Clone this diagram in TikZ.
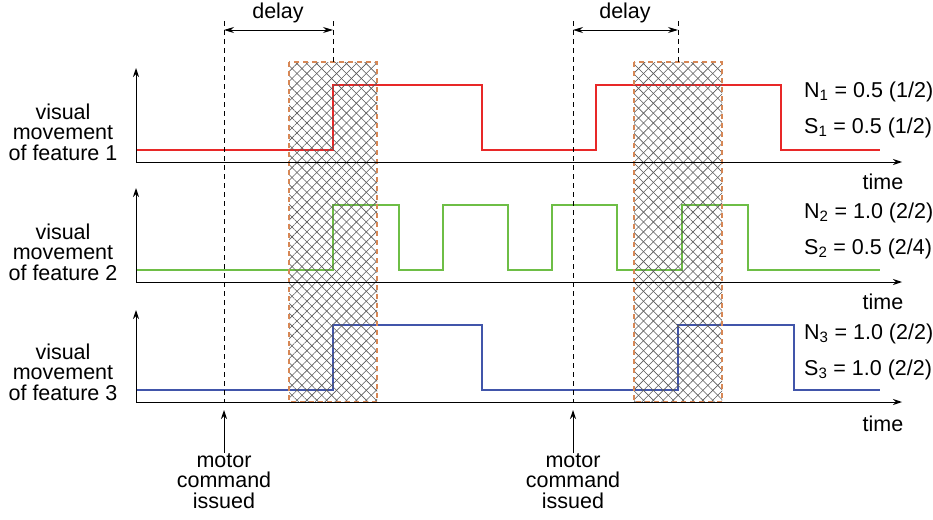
\documentclass[tikz,border=0pt]{standalone}
\usepackage{fontspec}
\setmainfont{Liberation Sans}
\usetikzlibrary{positioning, arrows.meta, patterns.meta}
\definecolor{sigred}{RGB}{232,40,40}
\definecolor{siggreen}{RGB}{110,190,70}
\definecolor{sigblue}{RGB}{65,85,170}
\definecolor{boxorange}{RGB}{215,135,85}

\tikzset{
	axis/.style={-{Stealth[length=9pt,width=6pt]}, line width=1pt},
	sig/.style={line width=1.1pt},
	guide/.style={line width=0.8pt, dash pattern=on 5pt off 4pt},
	span/.style={{Stealth[length=10pt,width=6pt]}-{Stealth[length=10pt,width=6pt]}, line width=0.9pt},
	lbl/.style={align=center, inner sep=0pt, font=\fontsize{21.5}{20.5}\selectfont},
	txt/.style={inner sep=0pt, font=\fontsize{21.5}{20.5}\selectfont}
}

\begin{document}
\begin{tikzpicture}
		[x=1pt, y=-1pt]
	\useasboundingbox (0,0) rectangle (933,519);

		% nodes %
		\node[lbl] (feat1) at (63,132) {visual\\movement\\of feature 1};
		\node[lbl] (feat2) at (63,252) {visual\\movement\\of feature 2};
		\node[lbl] (feat3) at (63,372) {visual\\movement\\of feature 3};

		\node[txt] (time1) at (883,182) {time};
		\node[txt] (time2) at (883,302) {time};
		\node[txt] (time3) at (883,424) {time};

		\node[txt, anchor=west] (n1) at (804,92) {N\textsubscript{1} = 0.5 (1/2)};
		\node[txt, anchor=west] (s1) at (804,128) {S\textsubscript{1} = 0.5 (1/2)};
		\node[txt, anchor=west] (n2) at (804,213) {N\textsubscript{2} = 1.0 (2/2)};
		\node[txt, anchor=west] (s2) at (804,249) {S\textsubscript{2} = 0.5 (2/4)};
		\node[txt, anchor=west] (n3) at (804,334) {N\textsubscript{3} = 1.0 (2/2)};
		\node[txt, anchor=west] (s3) at (804,370) {S\textsubscript{3} = 1.0 (2/2)};

		\node[lbl, anchor=north] (cmd1) at (224,453) {motor\\command\\issued};
		\node[lbl, anchor=north] (cmd2) at (573,453) {motor\\command\\issued};

		\node[txt] (delay1) at (278,13) {delay};
		\node[txt] (delay2) at (625,13) {delay};

		% coordinates %
		\coordinate (o1) at (136,162);
		\coordinate (o2) at (136,282);
		\coordinate (o3) at (136,402);
		\coordinate (c1top) at (224,21);
		\coordinate (c1bot) at (224,402);
		\coordinate (d1top) at (333,21);
		\coordinate (d1bot) at (333,62);
		\coordinate (c2top) at (573,21);
		\coordinate (c2bot) at (573,402);
		\coordinate (d2top) at (678,21);
		\coordinate (d2bot) at (678,62);

		% signals %
		\draw[sig, sigred] (136,150) -- (333,150) -- (333,85) -- (482,85) -- (482,150)
			-- (596,150) -- (596,85) -- (781,85) -- (781,150) -- (880,150);
		\draw[sig, siggreen] (136,270) -- (333,270) -- (333,205) -- (399,205) -- (399,270)
			-- (443,270) -- (443,205) -- (508,205) -- (508,270) -- (552,270) -- (552,205)
			-- (617,205) -- (617,270) -- (682,270) -- (682,205) -- (748,205) -- (748,270) -- (880,270);
		\draw[sig, sigblue] (136,390) -- (333,390) -- (333,325) -- (482,325) -- (482,390)
			-- (678,390) -- (678,325) -- (794,325) -- (794,390) -- (880,390);

		% hatched windows %
		\foreach \xa in {289,634} {
			\fill[pattern={Lines[angle=45,distance=7pt,line width=0.6pt]}, pattern color=black!65]
				(\xa,62) rectangle (\xa+88,402);
			\fill[pattern={Lines[angle=-45,distance=7pt,line width=0.6pt]}, pattern color=black!65]
				(\xa,62) rectangle (\xa+88,402);
			\draw[boxorange, line width=1.2pt, dash pattern=on 5pt off 4pt]
				(\xa,62) rectangle (\xa+88,402);
		}

		% axes %
		\draw[axis] (o1) -- (136,68);
		\draw[axis] (o1) -- (902,162);
		\draw[axis] (o2) -- (136,188);
		\draw[axis] (o2) -- (902,282);
		\draw[axis] (o3) -- (136,310);
		\draw[axis] (o3) -- (902,402);

		% guides %
		\draw[guide] (c1top) -- (c1bot);
		\draw[guide] (d1top) -- (d1bot);
		\draw[guide] (c2top) -- (c2bot);
		\draw[guide] (d2top) -- (d2bot);
		\draw[span] (224,30) -- (333,30);
		\draw[span] (573,30) -- (678,30);

		% edges %
		\draw[axis] (cmd1.north) -- (224,410);
		\draw[axis] (cmd2.north) -- (573,410);

\end{tikzpicture}
\end{document}
